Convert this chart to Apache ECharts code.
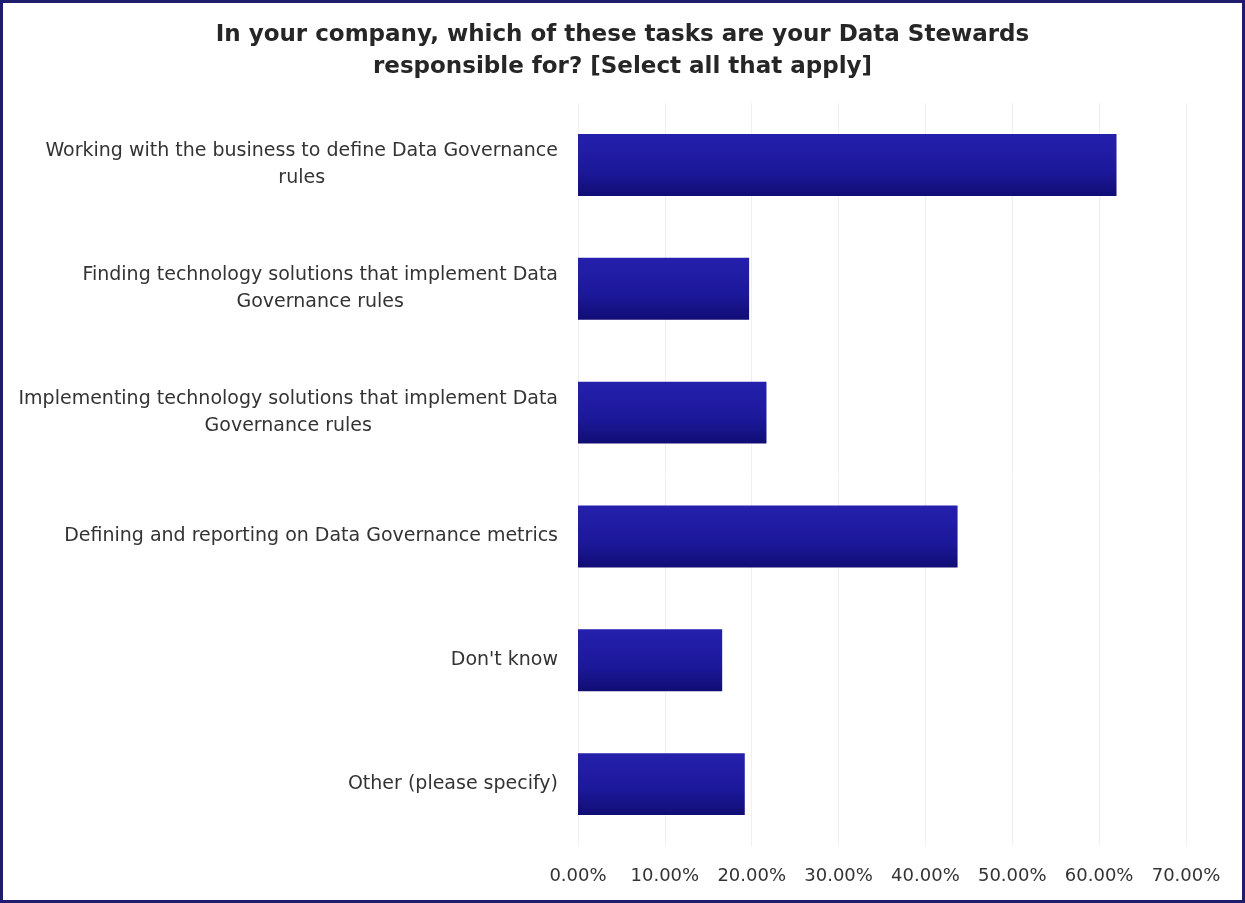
<!DOCTYPE html>
<html>
<head>
<meta charset="utf-8">
<script src="https://cdn.jsdelivr.net/npm/echarts@6/dist/echarts.min.js"></script>
<style>
  html, body { margin: 0; padding: 0; background: #fff; }
  #chart {
    width: 1245px;
    height: 903px;
    box-sizing: border-box;
    border: 3px solid #1f1c6b;
  }
</style>
</head>
<body>
<div id="chart"></div>
<script>
const titleText = 'In your company, which of these tasks are your Data Stewards\nresponsible for? [Select all that apply]'
// 类目（自上而下）
const categories = [
  'Working with the business to define Data Governance\nrules',
  'Finding technology solutions that implement Data\nGovernance rules',
  'Implementing technology solutions that implement Data\nGovernance rules',
  'Defining and reporting on Data Governance metrics',
  "Don't know",
  'Other (please specify)',
]
const values = [62.0, 19.7, 21.7, 43.7, 16.6, 19.2]
const axisMax = 70
const axisStep = 10

const myChart = echarts.init(document.getElementById('chart'))
myChart.setOption({
  backgroundColor: '#fff',
  title: {
    text: titleText,
    left: 'center',
    top: 11,
    textStyle: {
      fontFamily: 'DejaVu Sans',
      fontWeight: 'bold',
      fontSize: 23,
      lineHeight: 32,
      color: '#262626',
    },
  },
  grid: {
    left: 575,
    right: 56,
    top: 100,
    bottom: 54,
    containLabel: false,
  },
  xAxis: {
    type: 'value',
    min: 0,
    max: axisMax,
    interval: axisStep,
    axisLine: { show: false },
    axisTick: { show: false },
    splitLine: { show: true, lineStyle: { color: '#f0f0f0', width: 1 } },
    axisLabel: {
      margin: 21,
      fontFamily: 'DejaVu Sans',
      fontSize: 18,
      color: '#333',
      formatter: v => v.toFixed(2) + '%',
    },
  },
  yAxis: {
    type: 'category',
    inverse: true,
    data: categories,
    axisLine: { show: false },
    axisTick: { show: false },
    axisLabel: {
      margin: 20,
      fontFamily: 'DejaVu Sans',
      fontSize: 19,
      color: '#333',
      formatter: function (value) {
        return value.split('\n').map(s => '{c|' + s + '}').join('\n')
      },
      rich: {
        c: {
          align: 'center',
          fontFamily: 'DejaVu Sans',
          fontSize: 19,
          lineHeight: 27,
          color: '#333',
        },
      },
    },
  },
  series: [
    {
      type: 'bar',
      data: values,
      barWidth: '50%',
      itemStyle: {
        color: new echarts.graphic.LinearGradient(0, 0, 0, 1, [
          { offset: 0, color: '#2520ac' },
          { offset: 0.6, color: '#1c189a' },
          { offset: 1, color: '#110d74' },
        ]),
        shadowColor: 'rgba(0,0,0,0.25)',
        shadowBlur: 3,
        shadowOffsetY: 2,
      },
    },
  ],
})
</script>
</body>
</html>
